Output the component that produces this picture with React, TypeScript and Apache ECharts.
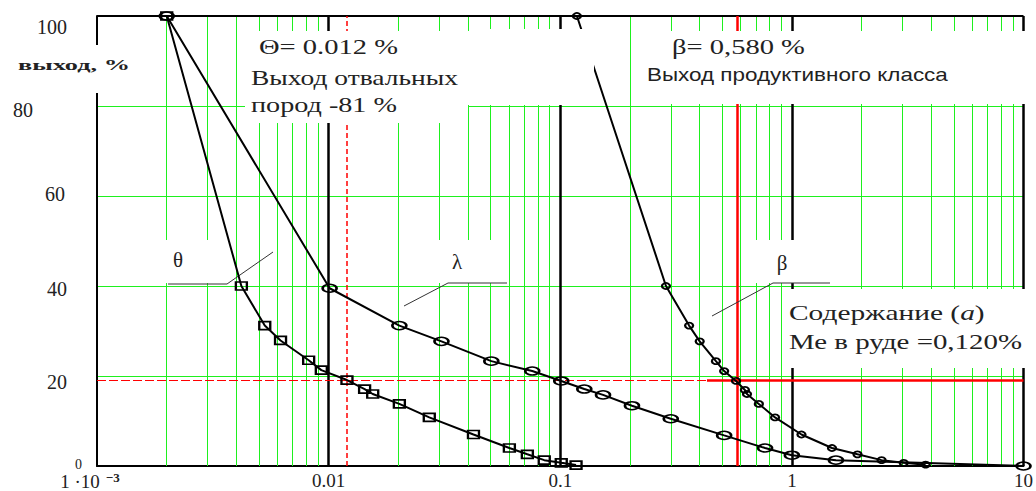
import React, { useEffect, useRef } from 'react';
import * as echarts from 'echarts';

// ---------- data ----------
const xTickValues = [0.001, 0.01, 0.1, 1, 10];
const xTickLabels = ['1 ·10', '0.01', '0.1', '1', '10'];
const xFirstSup = '−3';
const yTickValues = [0, 20, 40, 60, 80, 100];
const yTickLabels = ['0', '20', '40', '60', '80', '100'];

const minorGridX = [
  0.002, 0.003, 0.004, 0.005, 0.006, 0.007, 0.008, 0.009,
  0.02, 0.03, 0.04, 0.05, 0.06, 0.07, 0.08, 0.09,
  0.2, 0.3, 0.4, 0.5, 0.6, 0.7, 0.8, 0.9,
  2, 3, 4, 5, 6, 7, 8, 9,
];
const majorGridX = [0.01, 0.1, 1, 10];

const thetaX = [0.002, 0.0042, 0.0053, 0.0062, 0.0082, 0.0093, 0.012, 0.0143, 0.0155, 0.0202, 0.0272, 0.0422, 0.0603, 0.0721, 0.0853, 0.101, 0.117];
const thetaY = [100, 40, 31.2, 27.9, 23.5, 21.3, 19.1, 17.1, 16.0, 13.8, 10.8, 7.0, 4.0, 2.6, 1.3, 0.7, 0.2];

const lambdaX = [0.002, 0.0101, 0.0202, 0.0307, 0.0504, 0.0757, 0.101, 0.127, 0.153, 0.204, 0.3, 0.51, 0.766, 1.0, 1.55, 10];
const lambdaY = [100, 39.5, 31.2, 27.7, 23.3, 21.1, 18.9, 17.1, 15.8, 13.4, 10.5, 6.8, 4.0, 2.4, 1.3, 0];

const betaX = [0.118, 0.286, 0.36, 0.4, 0.47, 0.51, 0.574, 0.627, 0.64, 0.72, 0.846, 1.1, 1.49, 1.92, 2.44, 3.04, 3.78];
const betaY = [100, 40, 31.2, 27.7, 23.3, 21.1, 18.9, 16.9, 16.0, 13.8, 10.8, 7.0, 4.0, 2.6, 1.3, 0.7, 0.3];

const thetaValue = 0.012;   // Θ
const betaValue = 0.58;     // β
const yieldLevel = 19;      // 100 - 81
const dashEnd = 0.43;

// ---------- layout / styles ----------
const GREEN = '#1ef01e';
const RED = '#ff0000';
const TEXT = '#222';
const SERIF = '"Liberation Serif", "Times New Roman", serif';
const SANS = '"Liberation Sans", Arial, sans-serif';

const whiteBoxes = [
  { x: 245, y: 31, w: 223, h: 92, z: 3 },
  { x: 468, y: 31, w: 135, h: 74, z: 3 },
  { x: 470, y: 29, w: 124, h: 44, z: 6 },
  { x: 645, y: 31, w: 382, h: 73, z: 3 },
  { x: 160, y: 240, w: 56, h: 43, z: 3 },
  { x: 435, y: 240, w: 66, h: 43, z: 3 },
  { x: 752, y: 240, w: 48, h: 43, z: 3 },
  { x: 787, y: 289, w: 240, h: 79, z: 3 },
  { x: 90, y: 45, w: 15, h: 48, z: 3 },
];

const leaders = [
  [[168, 284], [227, 284], [273, 252]],
  [[404, 306], [448, 283], [507, 283]],
  [[712, 316], [773, 283], [830, 283]],
];

type TextItem = { text: string; left: number; right?: number; y: number; size: number; family: string; weight?: string; center?: boolean; rich?: boolean };
const texts: TextItem[] = [
  { text: 'Θ= 0.012 %', left: 259, right: 398, y: 47, size: 21, family: SERIF },
  { text: 'Выход отвальных', left: 251, right: 458, y: 77, size: 22, family: SERIF },
  { text: 'пород -81 %', left: 251, right: 397, y: 104, size: 22, family: SERIF },
  { text: 'β= 0,580 %', left: 672, right: 805, y: 47, size: 21, family: SERIF },
  { text: 'Выход продуктивного класса', left: 647, right: 948, y: 75, size: 18, family: SANS },
  { text: 'Содержание (a)', left: 789, right: 983, y: 313, size: 21, family: SERIF, rich: true },
  { text: 'Ме в руде =0,120%', left: 789, right: 1022, y: 342, size: 21, family: SERIF },
  { text: 'выход, %', left: 18, right: 130, y: 65, size: 15, family: SERIF, weight: 'bold' },
  { text: 'θ', left: 178, y: 260, size: 21, family: SERIF, center: true },
  { text: 'λ', left: 457, y: 262, size: 21, family: SERIF, center: true },
  { text: 'β', left: 782, y: 263, size: 21, family: SERIF, center: true },
];

const yLabelPad: Record<string, number[]> = {
  y0: [0, 5, 4, 0],
  y20: [12, 20, 0, 0],
  y40: [6, 20, 0, 0],
  y60: [0, 22, 4, 0],
  y80: [8, 54, 0, 0],
  y100: [22, 20, 0, 0],
};

function measure(text: string, font: string): number {
  const c = document.createElement('canvas').getContext('2d');
  if (!c) return text.length * 10;
  c.font = font;
  return c.measureText(text).width;
}

function buildGraphic() {
  const els: any[] = [];
  whiteBoxes.forEach((b) => {
    els.push({ type: 'rect', z: b.z, silent: true, shape: { x: b.x, y: b.y, width: b.w, height: b.h }, style: { fill: '#fff' } });
  });
  leaders.forEach((pts) => {
    els.push({ type: 'polyline', z: 4, silent: true, shape: { points: pts }, style: { stroke: '#333', lineWidth: 1, fill: null } });
  });
  texts.forEach((t) => {
    const font = `${t.weight === 'bold' ? 'bold ' : ''}${t.size}px ${t.family}`;
    let scaleX = 1;
    if (t.right !== undefined) {
      const w = measure(t.text, font);
      scaleX = (t.right - t.left) / w;
    }
    const style: any = {
      text: t.rich ? 'Содержание ({i|a})' : t.text,
      fill: TEXT,
      fontSize: t.size,
      fontFamily: t.family,
      fontWeight: t.weight || 'normal',
      align: t.center ? 'center' : 'left',
      verticalAlign: 'middle',
      textAlign: t.center ? 'center' : 'left',
      textVerticalAlign: 'middle',
    };
    if (t.rich) {
      style.rich = { i: { fontStyle: 'italic', fontSize: t.size, fontFamily: t.family, fill: TEXT } };
    }
    els.push({ type: 'text', z: 7, silent: true, x: t.left, y: t.y, scaleX, style });
  });
  return els;
}

const X_MIN = xTickValues[0];
const X_MAX = xTickValues[xTickValues.length - 1];

function vLine(v: number, lineStyle: any) {
  return [{ coord: [v, 0], lineStyle }, { coord: [v, 100] }];
}

function gridMarkLines() {
  const data: any[] = [];
  minorGridX.forEach((v) => data.push(vLine(v, { color: GREEN, width: 1, type: 'solid' })));
  majorGridX.forEach((v) => data.push(vLine(v, { color: '#000', width: 2.5, type: 'solid' })));
  data.push([
    { coord: [X_MIN, 100], lineStyle: { color: '#000', width: 2, type: 'solid' } },
    { coord: [X_MAX, 100] },
  ]);
  return data;
}

function redMarkLines() {
  return [
    vLine(thetaValue, { color: RED, width: 1.5, type: [5, 3], opacity: 1 }),
    vLine(betaValue, { color: RED, width: 2.5, type: 'solid' }),
    [
      { coord: [X_MIN, yieldLevel], lineStyle: { color: RED, width: 1.2, type: [9, 3] } },
      { coord: [dashEnd, yieldLevel] },
    ],
    [
      { coord: [dashEnd, yieldLevel], lineStyle: { color: RED, width: 2.5, type: 'solid' } },
      { coord: [X_MAX, yieldLevel] },
    ],
  ];
}

function curve(name: string, xs: number[], ys: number[], symbol: string, size: number[], z: number) {
  return {
    name,
    type: 'line',
    data: xs.map((x, i) => [x, ys[i]]),
    symbol,
    symbolSize: size,
    showSymbol: true,
    clip: false,
    z,
    lineStyle: { color: '#000', width: 2 },
    itemStyle: { color: 'rgba(255,255,255,0)', borderColor: '#000', borderWidth: 2 },
    silent: true,
  };
}

export default function App() {
  const ref = useRef<HTMLDivElement>(null);
  useEffect(() => {
    if (!ref.current) return;
    const chart = echarts.init(ref.current, null, { renderer: 'svg' });
    const yRich: any = {};
    Object.keys(yLabelPad).forEach((k) => {
      yRich[k] = {
        fontFamily: SERIF,
        fontSize: k === 'y0' ? 14 : 20,
        color: TEXT,
        padding: yLabelPad[k],
      };
    });
    const option: any = {
      animation: false,
      backgroundColor: '#fff',
      grid: { left: 97, right: 11, top: 16, bottom: 21, containLabel: false },
      xAxis: {
        type: 'log',
        logBase: 10,
        min: X_MIN,
        max: X_MAX,
        axisLine: { show: true, onZero: false, lineStyle: { color: '#000', width: 2 } },
        axisTick: { show: false },
        splitLine: { show: false },
        minorTick: { show: false },
        axisLabel: {
          margin: 5,
          showMinLabel: true,
          showMaxLabel: true,
          formatter: (v: number) => {
            const e = Math.round(Math.log10(v));
            const i = xTickValues.findIndex((t) => Math.round(Math.log10(t)) === e);
            if (i < 0) return '';
            if (i === 0) return `{b|${xTickLabels[0]}}{s|${xFirstSup}}`;
            return `{n|${xTickLabels[i]}}`;
          },
          rich: {
            n: { fontFamily: SERIF, fontSize: 19, color: TEXT },
            b: { fontFamily: SERIF, fontSize: 19, color: TEXT, padding: [0, 0, 0, 0] },
            s: { fontFamily: SERIF, fontSize: 13, color: TEXT, fontWeight: 'bold', verticalAlign: 'top', padding: [0, 14, 8, 6] },
          },
        },
      },
      yAxis: {
        type: 'value',
        min: 0,
        max: 100,
        interval: 20,
        axisLine: { show: true, lineStyle: { color: '#000', width: 2 } },
        axisTick: { show: false },
        splitLine: { show: true, showMinLine: false, showMaxLine: false, lineStyle: { color: GREEN, width: 1 } },
        axisLabel: {
          margin: 10,
          formatter: (v: number) => {
            const i = yTickValues.indexOf(Math.round(v));
            if (i < 0) return '';
            return `{y${yTickValues[i]}|${yTickLabels[i]}}`;
          },
          rich: yRich,
        },
      },
      series: [
        {
          name: 'grid',
          type: 'line',
          data: [],
          z: 1,
          silent: true,
          markLine: { z: 1, precision: 10, silent: true, symbol: ['none', 'none'], label: { show: false }, animation: false, data: gridMarkLines() },
        },
        {
          name: 'red',
          type: 'line',
          data: [],
          z: 2,
          silent: true,
          markLine: { z: 2, precision: 10, silent: true, symbol: ['none', 'none'], label: { show: false }, animation: false, data: redMarkLines() },
        },
        curve('θ', thetaX, thetaY, 'rect', [11, 8], 5),
        curve('λ', lambdaX, lambdaY, 'circle', [14, 8], 5),
        curve('β', betaX, betaY, 'circle', [8, 6], 5),
      ],
      graphic: { elements: buildGraphic() },
    };
    chart.setOption(option);
    return () => chart.dispose();
  }, []);
  return (
    <div
      ref={ref}
      style={{ position: 'absolute', left: 0, top: 0, width: 1036, height: 491, background: '#fff' }}
    />
  );
}
